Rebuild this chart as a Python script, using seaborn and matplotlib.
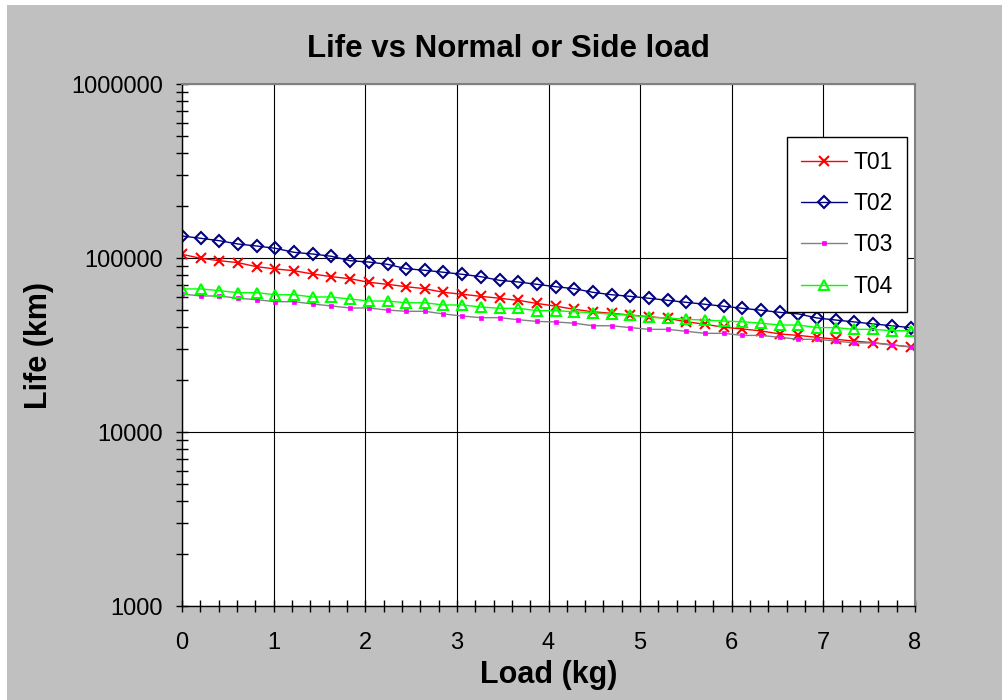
import numpy as np
import pandas as pd
import matplotlib
matplotlib.use('Agg')
import matplotlib.pyplot as plt
from matplotlib.patches import Rectangle
from matplotlib.ticker import FixedLocator, LogLocator, NullFormatter, FuncFormatter
import seaborn as sns

# 데이터
load_kg = [0.000, 0.204, 0.408, 0.612, 0.815, 1.019, 1.223, 1.427, 1.631, 1.835,
           2.039, 2.243, 2.446, 2.650, 2.854, 3.058, 3.262, 3.466, 3.670, 3.874,
           4.077, 4.281, 4.485, 4.689, 4.893, 5.097, 5.301, 5.505, 5.708, 5.912,
           6.116, 6.320, 6.524, 6.728, 6.932, 7.136, 7.339, 7.543, 7.747, 7.951]

t01 = [105000, 99600, 96500, 94000, 89100, 86500, 84500, 80900, 78100, 76000,
       72500, 70600, 68400, 66600, 63500, 61900, 60200, 58700, 57100, 54800,
       52900, 50700, 49100, 48100, 47000, 46000, 45000, 43000, 41600, 40000,
       39100, 38100, 36600, 35900, 35000, 34100, 33300, 32600, 31700, 30800]

t02 = [133800, 129800, 125700, 120300, 117200, 113700, 107800, 105400, 102300, 96500,
       94800, 92000, 86800, 85000, 82800, 80600, 78100, 74400, 72800, 70600,
       68400, 66600, 63500, 61500, 60200, 58700, 57100, 55600, 54200, 52800,
       51400, 50100, 48700, 47700, 45200, 44000, 42900, 41800, 40800, 39800]

t03 = [62100, 60500, 60500, 58700, 57600, 56100, 56100, 54400, 53000, 51600,
       51600, 50200, 49400, 49400, 47700, 46400, 45400, 45400, 44200, 43200,
       42900, 42200, 40800, 40800, 39800, 38900, 38900, 37900, 36900, 36900,
       35900, 35900, 35000, 34100, 34100, 33300, 32500, 32500, 31600, 30900]

t04 = [66400, 66400, 64900, 63200, 63200, 61500, 61500, 59700, 59700, 58100,
       56600, 56600, 55300, 55300, 53700, 53700, 52300, 51400, 51400, 49800,
       49800, 49100, 48500, 47500, 47000, 45600, 45200, 44400, 44000, 43400,
       43000, 42200, 41200, 41200, 39800, 39800, 38900, 38900, 38200, 38200]

x_ticks = [0, 1, 2, 3, 4, 5, 6, 7, 8]
y_ticks = [1000, 10000, 100000, 1000000]

sns.set_style('white')
plt.rcParams['font.family'] = ['Liberation Sans', 'DejaVu Sans']
plt.rcParams['text.color'] = 'black'
plt.rcParams['axes.labelcolor'] = 'black'

W, H = 1002, 700
fig = plt.figure(figsize=(W / 100, H / 100), dpi=100, facecolor='white')
# 회색 차트 영역 (왼쪽/위쪽 흰 테두리)
fig.patches.append(Rectangle((7 / W, 0), 1 - 7 / W, 1 - 5 / H,
                             transform=fig.transFigure, facecolor='#C0C0C0',
                             edgecolor='none', zorder=-10))

ax = fig.add_axes([182 / W, 1 - 606 / H, (915 - 182) / W, (606 - 84) / H])
ax.set_facecolor('white')

series = [
    ('T01', t01, dict(color='#FF0000', marker='x', markersize=7, markeredgewidth=1.5,
                      markeredgecolor='#FF0000')),
    ('T02', t02, dict(color='#000080', marker='D', markersize=6, markeredgewidth=1.5,
                      markeredgecolor='#000080', markerfacecolor='none')),
    ('T03', t03, dict(color='#808080', marker='s', markersize=2.5, markeredgewidth=0.5,
                      markeredgecolor='#FF00FF', markerfacecolor='#FF00FF')),
    ('T04', t04, dict(color='#00FF00', marker='^', markersize=7, markeredgewidth=1.5,
                      markeredgecolor='#00FF00', markerfacecolor='none')),
]

for name, vals, style in series:
    sns.lineplot(x=load_kg, y=vals, ax=ax, label=name, linewidth=1, **style)

ax.set_yscale('log')
ax.set_xlim(0, 8)
ax.set_ylim(1000, 1000000)

ax.xaxis.set_major_locator(FixedLocator(x_ticks))
ax.xaxis.set_minor_locator(FixedLocator([i * 0.2 for i in range(41)]))
ax.yaxis.set_major_locator(FixedLocator(y_ticks))
ax.yaxis.set_minor_locator(LogLocator(base=10, subs=range(2, 10)))
ax.yaxis.set_major_formatter(FuncFormatter(lambda v, p: '%d' % v))
ax.yaxis.set_minor_formatter(NullFormatter())

ax.grid(True, which='major', color='black', linewidth=0.8)
ax.set_axisbelow(True)

ax.tick_params(which='major', direction='inout', length=9, width=1, color='black',
               labelsize=17, labelcolor='black')
ax.tick_params(which='minor', direction='inout', length=8, width=1, color='black')
ax.tick_params(axis='x', which='major', pad=14)
ax.tick_params(axis='y', which='major', pad=9)
ax.tick_params(left=True, bottom=True, which='both')

for side in ['left', 'bottom']:
    ax.spines[side].set_color('black')
    ax.spines[side].set_linewidth(1)
for side in ['top', 'right']:
    ax.spines[side].set_color('#808080')
    ax.spines[side].set_linewidth(1.5)

ax.set_xlabel('Load (kg)', fontsize=22, fontweight='bold', color='black')
ax.set_ylabel('Life (km)', fontsize=22, fontweight='bold', color='black')
ax.xaxis.set_label_coords(0.5, -0.103)
ax.yaxis.set_label_coords(-0.175, 0.5)

fig.text(508 / W, 1 - 57 / H, 'Life vs Normal or Side load', fontsize=22.5,
         fontweight='bold', ha='center', va='baseline', color='black')

leg = ax.legend(loc='upper right', bbox_to_anchor=((907 - 182) / 733, (606 - 137) / 522),
                borderaxespad=0, fontsize=16.5, frameon=True, fancybox=False,
                framealpha=1, edgecolor='black', handlelength=2.0, labelspacing=0.8,
                borderpad=0.6, handletextpad=0.3)
leg.get_frame().set_linewidth(1)
for t in leg.get_texts():
    t.set_color('black')

fig.savefig('out.png', dpi=100, facecolor=fig.get_facecolor())
